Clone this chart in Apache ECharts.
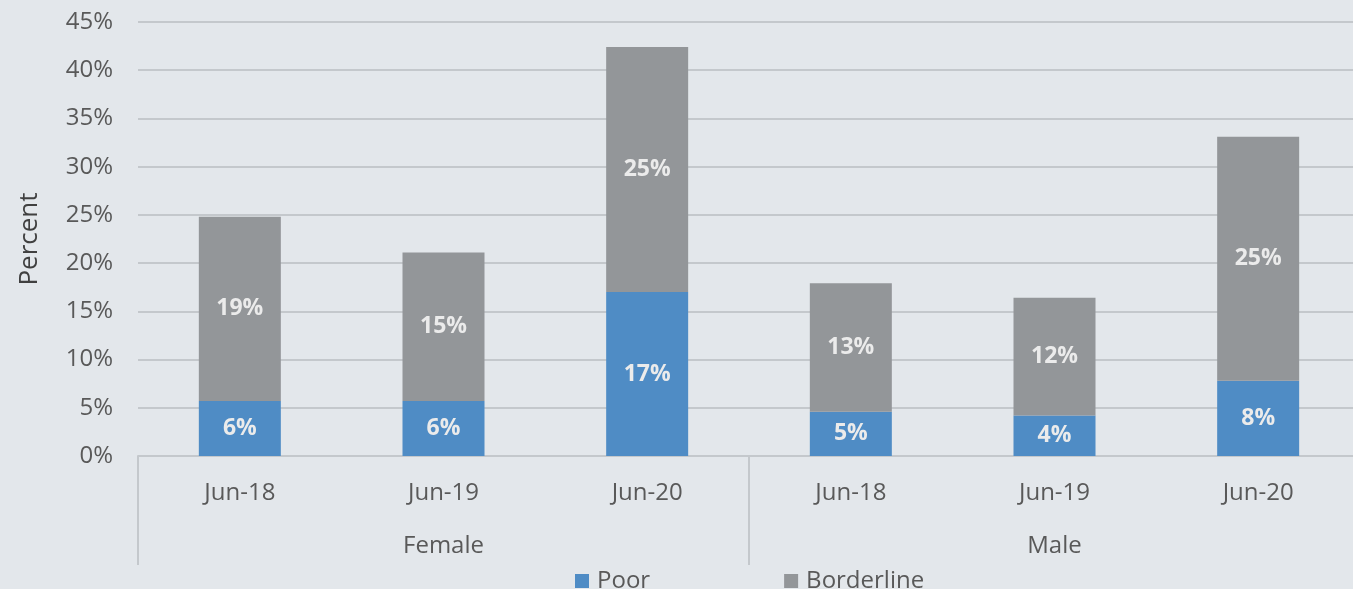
<!DOCTYPE html>
<html><head><meta charset="utf-8">
<script src="https://cdn.jsdelivr.net/npm/echarts@6/dist/echarts.min.js"></script>
<style>html,body{margin:0;padding:0;background:#e3e7eb;overflow:hidden;}#c{width:1360px;height:589px;}</style>
</head><body><div id="c"></div>
<script>
const categories = ['Jun-18','Jun-19','Jun-20','Jun-18','Jun-19','Jun-20'];
const groups = ['Female','Male'];
const poor = [5.7, 5.7, 17.0, 4.6, 4.2, 7.8];
const borderline = [19.1, 15.4, 25.4, 13.3, 12.2, 25.3];
const yTicks = [0,5,10,15,20,25,30,35,40,45];

const FONT = 'Open Sans';
const chart = echarts.init(document.getElementById('c'));
const lbl = {show:true, position:'inside', color:'#ebebeb', fontWeight:'bold', fontSize:23, fontFamily:FONT,
  formatter: p => Math.round(p.value) + '%'};
chart.setOption({
  backgroundColor:'#e3e7eb',
  animation:false,
  textStyle:{fontFamily:FONT},
  grid:{left:138, right:0, top:22, bottom:133, containLabel:false},
  legend:{left:570, top:564, itemWidth:14, itemHeight:14, itemGap:134, icon:'rect',
    textStyle:{fontSize:24, color:'#595959', fontFamily:FONT, padding:[0,0,0,3]},
    data:['Poor','Borderline']},
  xAxis:[
    {type:'category', data:categories, position:'bottom',
     axisLine:{show:true, lineStyle:{color:'#c4c8cc', width:2}},
     axisTick:{show:false},
     axisLabel:{margin:25, fontSize:24, color:'#595959', fontFamily:FONT, interval:0}},
    {type:'category', data:groups, position:'bottom', gridIndex:0,
     axisLine:{show:false},
     axisTick:{show:true, length:109, interval:0, lineStyle:{color:'#c4c8cc', width:2}},
     axisLabel:{margin:78, fontSize:24, color:'#595959', fontFamily:FONT, interval:0}}
  ],
  yAxis:{type:'value', min:yTicks[0], max:yTicks[yTicks.length-1], interval:5,
    name:'Percent', nameLocation:'middle', nameGap:95,
    nameTextStyle:{fontSize:26, color:'#404040', fontFamily:FONT},
    axisLine:{show:false}, axisTick:{show:false},
    axisLabel:{margin:25, fontSize:24, color:'#595959', fontFamily:FONT, formatter: v => v + '%'},
    splitLine:{lineStyle:{color:'#c4c8cc', width:2}}},
  series:[
    {name:'Poor', type:'bar', stack:'a', data:poor, barWidth:82, itemStyle:{color:'#4f8cc5'}, label:lbl},
    {name:'Borderline', type:'bar', stack:'a', data:borderline, barWidth:82, itemStyle:{color:'#939699'}, label:lbl}
  ]
});
</script></body></html>
